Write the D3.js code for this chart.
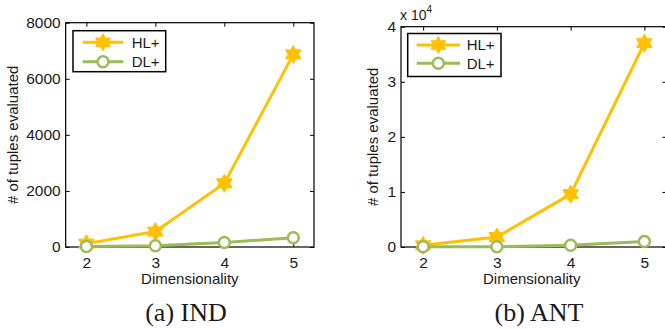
<!DOCTYPE html>
<html><head><meta charset="utf-8">
<script src="https://cdn.jsdelivr.net/npm/d3@7/dist/d3.min.js"></script>
<style>
html,body{margin:0;padding:0;background:#fff;}
svg{display:block;}
</style></head>
<body>
<svg id="chart" width="665" height="329"></svg>
<script>
const dims = [2, 3, 4, 5];
const indHL = [120, 550, 2270, 6870];
const indDL = [20, 45, 160, 330];
const antHL = [300, 1800, 9600, 37000];
const antDL = [30, 50, 300, 1000];
const indTicks = [0, 2000, 4000, 6000, 8000];
const antTicks = [0, 10000, 20000, 30000, 40000];
const seriesNames = ["HL+", "DL+"];
const captions = ["(a) IND", "(b) ANT"];

const HL_COLOR = "#FFC000", DL_COLOR = "#9BBB59";
const SANS = "'Liberation Sans', Arial, sans-serif";
const SERIF = "'Liberation Serif', 'Times New Roman', serif";
const TXT = "#1a1a1a";
const svg = d3.select("#chart");

function hexagram(r) {
  const pts = [];
  const ri = r / Math.sqrt(3);
  for (let i = 0; i < 12; i++) {
    const a = -Math.PI / 2 + i * Math.PI / 6;
    const rr = i % 2 === 0 ? r : ri;
    pts.push([rr * Math.cos(a), rr * Math.sin(a)]);
  }
  return "M" + pts.map(p => p[0].toFixed(2) + "," + p[1].toFixed(2)).join("L") + "Z";
}

function txt(sel, size, family) {
  return sel.style("font-family", family || SANS).style("font-size", size + "px").style("fill", TXT);
}

function panel(cfg) {
  const x = d3.scaleLinear().domain([1.7, 5.3]).range([cfg.x0, cfg.x1]);
  const y = d3.scaleLinear().domain([0, cfg.ymax]).range([cfg.y0, cfg.y1]);
  const g = svg.append("g");

  g.append("rect").attr("x", cfg.x0).attr("y", cfg.y1)
    .attr("width", cfg.x1 - cfg.x0).attr("height", cfg.y0 - cfg.y1)
    .attr("fill", "none").attr("stroke", "#000").attr("stroke-width", 1.2);

  const ax = [
    [d3.axisBottom(x).tickValues(dims).tickFormat(d3.format("d")).tickPadding(10), `translate(0,${cfg.y0})`],
    [d3.axisTop(x).tickValues(dims).tickFormat(""), `translate(0,${cfg.y1})`],
    [d3.axisLeft(y).tickValues(cfg.ticks).tickFormat(cfg.fmt).tickPadding(5), `translate(${cfg.x0},0)`],
    [d3.axisRight(y).tickValues(cfg.ticks).tickFormat(""), `translate(${cfg.x1},0)`]
  ];
  ax.forEach(([a, t]) => {
    const ag = g.append("g").attr("transform", t).call(a.tickSizeInner(-4).tickSizeOuter(0));
    ag.select(".domain").remove();
    ag.selectAll("line").attr("stroke", "#000").attr("stroke-width", 1);
    txt(ag.selectAll("text"), 15.5);
  });

  txt(g.append("text").attr("x", (cfg.x0 + cfg.x1) / 2 + cfg.xlabDx).attr("y", 284)
    .attr("text-anchor", "middle").text("Dimensionality"), 15);
  txt(g.append("text").attr("transform", `translate(${cfg.ylabX},${(cfg.y0 + cfg.y1) / 2}) rotate(-90)`)
    .attr("text-anchor", "middle").text("# of tuples evaluated"), 15);

  if (cfg.expo) {
    const t = txt(g.append("text").attr("x", cfg.x0 - 1).attr("y", 20), 14);
    t.append("tspan").text("x 10");
    t.append("tspan").attr("dy", -7).style("font-size", "10px").text("4");
  }

  txt(g.append("text").attr("x", cfg.capX).attr("y", 321).attr("text-anchor", "middle")
    .text(cfg.caption), 26, SERIF);

  const line = d3.line().x((d, i) => x(dims[i])).y(d => y(d));
  g.append("path").attr("d", line(cfg.hl)).attr("fill", "none").attr("stroke", HL_COLOR)
    .attr("stroke-width", 3).attr("stroke-linejoin", "round");
  g.selectAll(".hlm").data(cfg.hl).enter().append("path")
    .attr("transform", (d, i) => `translate(${x(dims[i])},${y(d)})`)
    .attr("d", hexagram(9)).attr("fill", HL_COLOR).attr("stroke", HL_COLOR).attr("stroke-width", 1);
  g.append("path").attr("d", line(cfg.dl)).attr("fill", "none").attr("stroke", DL_COLOR)
    .attr("stroke-width", 3).attr("stroke-linejoin", "round");
  g.selectAll(".dlm").data(cfg.dl).enter().append("circle")
    .attr("cx", (d, i) => x(dims[i])).attr("cy", d => y(d)).attr("r", 5.5)
    .attr("fill", "#fff").attr("stroke", DL_COLOR).attr("stroke-width", 2.5);

  const L = cfg.leg;
  g.append("rect").attr("x", L.x).attr("y", L.y).attr("width", L.w).attr("height", L.h)
    .attr("fill", "#fff").attr("stroke", "#000").attr("stroke-width", 1.5);
  const rows = [[seriesNames[0], HL_COLOR, L.y1], [seriesNames[1], DL_COLOR, L.y2]];
  rows.forEach(([name, col, yy], k) => {
    g.append("line").attr("x1", L.lx1).attr("x2", L.lx2).attr("y1", yy).attr("y2", yy)
      .attr("stroke", col).attr("stroke-width", 3);
    const mx = (L.lx1 + L.lx2) / 2;
    if (k === 0) {
      g.append("path").attr("transform", `translate(${mx},${yy})`).attr("d", hexagram(8.5))
        .attr("fill", col).attr("stroke", col);
    } else {
      g.append("circle").attr("cx", mx).attr("cy", yy).attr("r", 5.5).attr("fill", "#fff")
        .attr("stroke", col).attr("stroke-width", 2.5);
    }
    txt(g.append("text").attr("x", L.tx).attr("y", yy).attr("dy", "0.36em").text(name), 15);
  });
}

panel({
  x0: 65.7, x1: 314, y0: 247, y1: 22.7, ymax: 8000, ticks: indTicks, fmt: d3.format("d"),
  hl: indHL, dl: indDL, ylabX: 18, xlabDx: 0, capX: 186, caption: captions[0], expo: false,
  leg: { x: 73, y: 30.7, w: 92.7, h: 41, lx1: 82.7, lx2: 123.3, y1: 42.3, y2: 61.7, tx: 131.7 }
});
panel({
  x0: 401, x1: 666.5, y0: 247, y1: 26.7, ymax: 40000, ticks: antTicks, fmt: d => d / 10000,
  hl: antHL, dl: antDL, ylabX: 378, xlabDx: -2, capX: 539, caption: captions[1], expo: true,
  leg: { x: 407.7, y: 33.5, w: 93.3, h: 43, lx1: 416.7, lx2: 460, y1: 45, y2: 63.3, tx: 466.7 }
});
</script>
</body></html>
